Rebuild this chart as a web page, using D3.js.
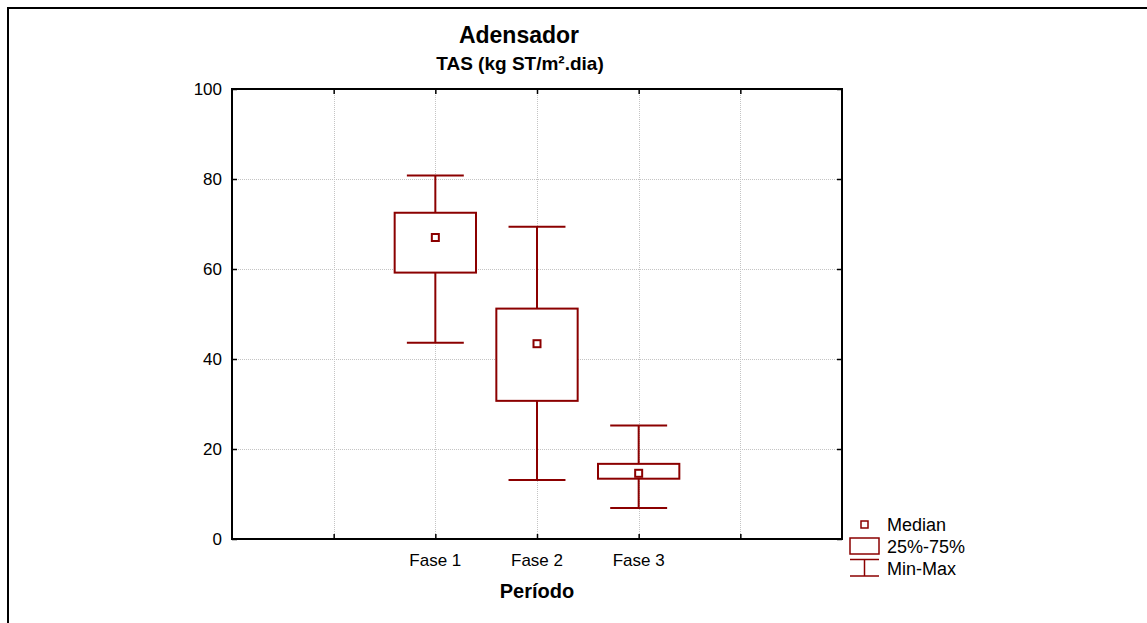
<!DOCTYPE html>
<html>
<head>
<meta charset="utf-8">
<script src="https://cdn.jsdelivr.net/npm/d3@7/dist/d3.min.js"></script>
<style>
  html, body { margin: 0; padding: 0; background: #fff; }
  svg { display: block; font-family: Arial, "Liberation Sans", sans-serif; }
</style>
</head>
<body>
<svg id="chart" width="1147" height="623"></svg>
<script>
// Box-plot summary of TAS per phase
const categories = ["Fase 1", "Fase 2", "Fase 3"];
const minValues    = [43.6, 13.1, 6.9];
const q1Values     = [59.2, 30.7, 13.4];
const medianValues = [67.0, 43.4, 14.6];
const q3Values     = [72.5, 51.2, 16.7];
const maxValues    = [80.8, 69.4, 25.2];
const yTicks = [0, 20, 40, 60, 80, 100];
const legendLabels = ["Median", "25%-75%", "Min-Max"];

const color = "#8b0000";
const svg = d3.select("#chart");

const plot = { left: 232, right: 842, top: 89, bottom: 539 };
// Category slots 0..6; the three phases sit at slots 2, 3 and 4
const x = d3.scaleLinear().domain([0, 6]).range([plot.left, plot.right]);
const y = d3.scaleLinear().domain([0, 100]).range([plot.bottom, plot.top]);
const slot = i => i + 2;
const boxHalf = 0.4, capHalf = 0.28;

// Outer frame (left and top edges)
svg.append("path")
  .attr("d", "M8,623 L8,8 L1147,8")
  .attr("fill", "none").attr("stroke", "#000").attr("stroke-width", 2);

// Grid
const grid = svg.append("g").attr("stroke", "#c4c4c4").attr("stroke-width", 1)
  .attr("stroke-dasharray", "1,1");
yTicks.slice(1, -1).forEach(v => {
  grid.append("line").attr("x1", plot.left).attr("x2", plot.right)
    .attr("y1", Math.round(y(v)) + 0.5).attr("y2", Math.round(y(v)) + 0.5);
});
d3.range(1, 6).forEach(v => {
  grid.append("line").attr("y1", plot.top).attr("y2", plot.bottom)
    .attr("x1", Math.round(x(v)) + 0.5).attr("x2", Math.round(x(v)) + 0.5);
});

// Axes with inward ticks on all four sides
const tickLen = 5;
svg.append("g").attr("transform", `translate(${plot.left},0)`)
  .call(d3.axisLeft(y).tickValues(yTicks).tickSize(-tickLen).tickPadding(10).tickFormat(d3.format("d")))
  .call(g => g.select(".domain").remove())
  .call(g => g.selectAll("text").attr("font-size", 17).attr("fill", "#000").attr("font-family", "Arial, 'Liberation Sans', sans-serif"));
svg.append("g").attr("transform", `translate(${plot.right},0)`)
  .call(d3.axisRight(y).tickValues(yTicks).tickSize(-tickLen).tickFormat(""))
  .call(g => g.select(".domain").remove());
svg.append("g").attr("transform", `translate(0,${plot.bottom})`)
  .call(d3.axisBottom(x).tickValues(d3.range(1, 6)).tickSize(-tickLen).tickFormat(""))
  .call(g => g.select(".domain").remove());
svg.append("g").attr("transform", `translate(0,${plot.top})`)
  .call(d3.axisTop(x).tickValues(d3.range(1, 6)).tickSize(-tickLen).tickFormat(""))
  .call(g => g.select(".domain").remove());
svg.selectAll(".tick line").attr("stroke", "#000").attr("stroke-width", 1.5);

// Plot border
svg.append("rect")
  .attr("x", plot.left).attr("y", plot.top)
  .attr("width", plot.right - plot.left).attr("height", plot.bottom - plot.top)
  .attr("fill", "none").attr("stroke", "#000").attr("stroke-width", 2);

// Category labels
svg.append("g").selectAll("text").data(categories).join("text")
  .attr("x", (d, i) => x(slot(i))).attr("y", 566)
  .attr("text-anchor", "middle").attr("font-size", 17).text(d => d);

// Boxes
const boxes = svg.append("g").attr("stroke", color).attr("stroke-width", 2).attr("fill", "none");
categories.forEach((c, i) => {
  const cx = x(slot(i));
  const g = boxes.append("g");
  // whiskers
  g.append("line").attr("x1", cx).attr("x2", cx).attr("y1", y(maxValues[i])).attr("y2", y(q3Values[i]));
  g.append("line").attr("x1", cx).attr("x2", cx).attr("y1", y(q1Values[i])).attr("y2", y(minValues[i]));
  g.append("line").attr("x1", x(slot(i) - capHalf)).attr("x2", x(slot(i) + capHalf))
    .attr("y1", y(maxValues[i])).attr("y2", y(maxValues[i]));
  g.append("line").attr("x1", x(slot(i) - capHalf)).attr("x2", x(slot(i) + capHalf))
    .attr("y1", y(minValues[i])).attr("y2", y(minValues[i]));
  // interquartile box
  g.append("rect")
    .attr("x", x(slot(i) - boxHalf)).attr("y", y(q3Values[i]))
    .attr("width", x(slot(i) + boxHalf) - x(slot(i) - boxHalf))
    .attr("height", y(q1Values[i]) - y(q3Values[i]))
    .attr("fill", "#fff");
  // median marker
  g.append("rect")
    .attr("x", cx - 3.5).attr("y", y(medianValues[i]) - 3.5)
    .attr("width", 7).attr("height", 7).attr("fill", "#fff");
});

// Titles
svg.append("text").attr("x", 519).attr("y", 43).attr("text-anchor", "middle")
  .attr("font-size", 23).attr("font-weight", "bold").text("Adensador");
svg.append("text").attr("x", 520).attr("y", 70).attr("text-anchor", "middle")
  .attr("font-size", 19).attr("font-weight", "bold").text("TAS (kg ST/m².dia)");
svg.append("text").attr("x", 537).attr("y", 598).attr("text-anchor", "middle")
  .attr("font-size", 20).attr("font-weight", "bold").text("Período");

// Legend
const lg = svg.append("g");
const lstroke = g => g.attr("stroke", color).attr("stroke-width", 1.5).attr("fill", "none");
lg.append("rect").attr("x", 861).attr("y", 521).attr("width", 7).attr("height", 7).call(lstroke);
lg.append("rect").attr("x", 850).attr("y", 538).attr("width", 29).attr("height", 16).call(lstroke);
lg.append("line").attr("x1", 850).attr("x2", 879).attr("y1", 559.5).attr("y2", 559.5).call(lstroke);
lg.append("line").attr("x1", 850).attr("x2", 879).attr("y1", 576).attr("y2", 576).call(lstroke);
lg.append("line").attr("x1", 864.5).attr("x2", 864.5).attr("y1", 559.5).attr("y2", 576).call(lstroke);
lg.selectAll("text").data(legendLabels).join("text")
  .attr("x", 887).attr("y", (d, i) => 531 + i * 22)
  .attr("font-size", 18).text(d => d);
</script>
</body>
</html>
